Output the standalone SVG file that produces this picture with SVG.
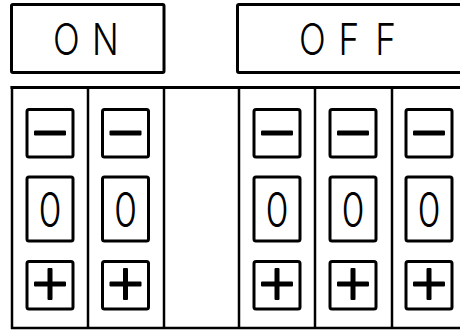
<svg xmlns="http://www.w3.org/2000/svg" width="460" height="330" viewBox="0 0 460 330">
<style>
.frame{fill:none;stroke:#000;stroke-width:3}
.line{stroke:#000;stroke-width:2.5}
.btn{fill:#fff;stroke:#000;stroke-width:3}
.bar{fill:#000}
.lbl{font-family:Inter,"DejaVu Sans",sans-serif;font-weight:300;font-size:44px;fill:#000}
.zero{font-family:Inter,"DejaVu Sans",sans-serif;font-weight:300;font-size:48px;fill:#000;text-anchor:middle}
</style>
<defs>
<g id="minus"><rect class="btn" x="-23" y="109.5" width="46" height="47.5" rx="2"/><rect class="bar" x="-16" y="130.5" width="32" height="5" rx="1"/></g>
<g id="zero"><rect class="btn" x="-23" y="177" width="46" height="64" rx="2"/><text class="zero" x="0" y="227" transform="scale(0.78,1)">0</text></g>
<g id="plus"><rect class="btn" x="-23" y="261.5" width="46" height="47.5" rx="2"/><rect class="bar" x="-16" y="281.5" width="32" height="5" rx="1"/><rect class="bar" x="-2.5" y="268" width="5" height="32" rx="1"/></g>
</defs>
<g id="label-on"><rect class="frame" x="11.5" y="4.5" width="152.5" height="68" rx="1.5"/><text class="lbl" x="66.25 115" y="55" transform="scale(0.8,1)">ON</text></g>
<g id="label-off"><rect class="frame" x="237.5" y="4.5" width="240" height="68" rx="1.5"/><text class="lbl" x="373.75 423 469" y="55" transform="scale(0.8,1)">OFF</text></g>
<g id="panel">
<line class="line" x1="10.5" y1="87.5" x2="462" y2="87.5" style="stroke-width:3"/>
<line class="line" x1="12" y1="86" x2="12" y2="329"/>
<line class="line" x1="11" y1="328" x2="462" y2="328"/>
<line class="line" x1="88" y1="87" x2="88" y2="328"/>
<line class="line" x1="164" y1="87" x2="164" y2="328"/>
<line class="line" x1="239" y1="87" x2="239" y2="328"/>
<line class="line" x1="315" y1="87" x2="315" y2="328"/>
<line class="line" x1="392" y1="87" x2="392" y2="328"/>
</g>
<g id="col-on-1" transform="translate(50,0)"><use href="#minus"/><use href="#zero"/><use href="#plus"/></g>
<g id="col-on-2" transform="translate(125.5,0)"><use href="#minus"/><use href="#zero"/><use href="#plus"/></g>
<g id="col-off-1" transform="translate(277,0)"><use href="#minus"/><use href="#zero"/><use href="#plus"/></g>
<g id="col-off-2" transform="translate(353,0)"><use href="#minus"/><use href="#zero"/><use href="#plus"/></g>
<g id="col-off-3" transform="translate(429,0)"><use href="#minus"/><use href="#zero"/><use href="#plus"/></g>
<g id="connectors"/>
</svg>
